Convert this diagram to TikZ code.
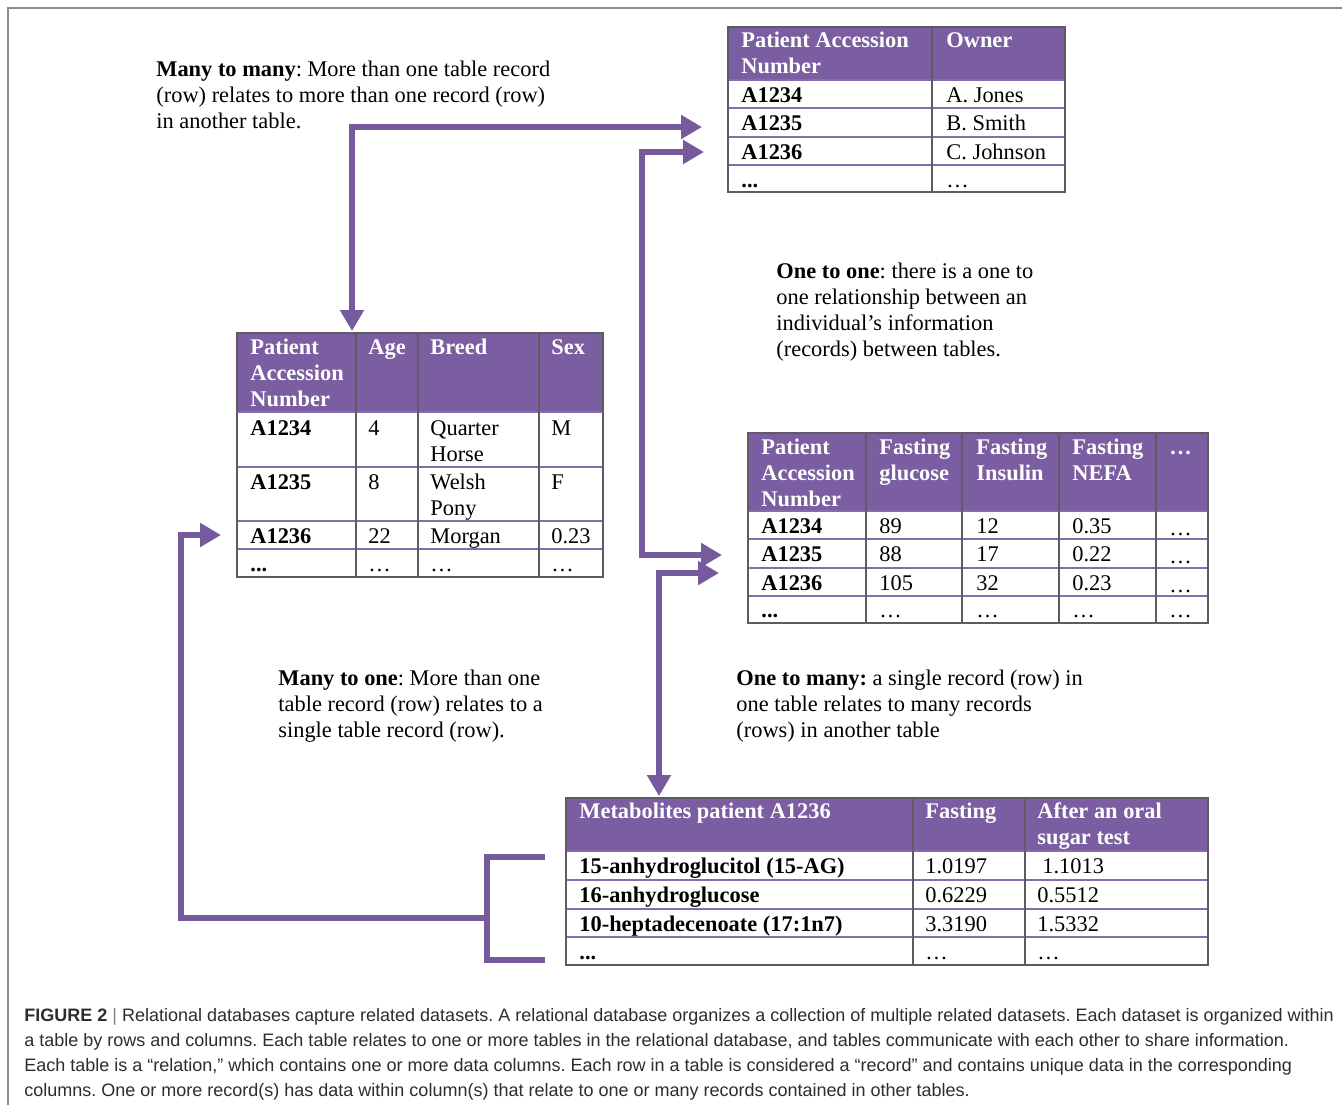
\documentclass[tikz,border=0pt]{standalone}
\usepackage{fontspec}
\setmainfont{Liberation Serif}
\setsansfont{Liberation Sans}
\usetikzlibrary{arrows.meta}
\definecolor{hdr}{RGB}{123,94,161}
\definecolor{arr}{RGB}{118,90,158}
\definecolor{rowl}{RGB}{135,108,172}
\definecolor{gridc}{RGB}{95,90,100}
\definecolor{capc}{RGB}{45,45,45}
\definecolor{framec}{RGB}{140,140,140}
\begin{document}
\frenchspacing
\begin{tikzpicture}[x=0.5pt,y=-0.5pt,
 hd/.style={anchor=base west,text=white,font=\fontsize{11.2}{13}\selectfont\bfseries,inner sep=0pt,align=left},
 bd/.style={anchor=base west,font=\fontsize{11.2}{13}\selectfont,inner sep=0pt,align=left},
 bdb/.style={bd,font=\fontsize{11.2}{13}\selectfont\bfseries},
 note/.style={anchor=base west,font=\fontsize{11.2}{13}\selectfont\frenchspacing,inner sep=0pt,align=left},
 capt/.style={anchor=base west,font=\sffamily\fontsize{9}{12.5}\selectfont\frenchspacing,text=capc,inner sep=0pt,align=left},
 link/.style={draw=arr,line width=3.3pt},
 hfill/.style={fill=hdr},
 rline/.style={draw=rowl,line width=1pt},
 cline/.style={draw=gridc,line width=0.6pt},
 border/.style={draw=gridc,line width=0.7pt},
 tipr/.style={-{Triangle[length=10.5pt,width=11.5pt]}},
 tipb/.style={{Triangle[length=10.5pt,width=11.5pt]}-{Triangle[length=10.5pt,width=11.5pt]}},
]
\useasboundingbox (0,0) rectangle (1342,1105);
\fill[white] (0,0) rectangle (1342,1105);
% frame
\draw[framec,line width=1pt] (1342,8) -- (8,8) -- (8,1105);

% (multi-line nodes are placed at the baseline of their LAST line)
% ---------------- Table 1 (Owner)
\fill[hfill] (728,27) rectangle (1065,80);
\foreach \y in {80,108,137,165} \draw[rline] (728,\y) -- (1065,\y);
\draw[cline] (932,27) -- (932,192);
\draw[border] (728,27) rectangle (1065,192);
\node[hd] (t1h1) at (741,73) {Patient Accession\\Number};
\node[hd] (t1h2) at (946,47) {Owner};
\node[bdb] (t1a1) at (741,102) {A1234};
\node[bd]  (t1b1) at (946,102) {A. Jones};
\node[bdb] (t1a2) at (741,130) {A1235};
\node[bd]  (t1b2) at (946,130) {B. Smith};
\node[bdb] (t1a3) at (741,159) {A1236};
\node[bd]  (t1b3) at (946,159) {C. Johnson};
\node[bdb] (t1a4) at (741,187) {...};
\node[bd]  (t1b4) at (946,187) {…};

% ---------------- Table 2 (Age)
\fill[hfill] (237,333) rectangle (603,412);
\foreach \y in {412,467,521,549} \draw[rline] (237,\y) -- (603,\y);
\foreach \x in {356,418,539} \draw[cline] (\x,333) -- (\x,577);
\draw[border] (237,333) rectangle (603,577);
\node[hd] (t2h1) at (250,406) {Patient\\Accession\\Number};
\node[hd] (t2h2) at (368,354) {Age};
\node[hd] (t2h3) at (430,354) {Breed};
\node[hd] (t2h4) at (551,354) {Sex};
\node[bdb] (t2a1) at (250,435) {A1234};
\node[bd]  (t2b1) at (368,435) {4};
\node[bd]  (t2c1) at (430,461) {Quarter\\Horse};
\node[bd]  (t2d1) at (551,435) {M};
\node[bdb] (t2a2) at (250,489) {A1235};
\node[bd]  (t2b2) at (368,489) {8};
\node[bd]  (t2c2) at (430,515) {Welsh\\Pony};
\node[bd]  (t2d2) at (551,489) {F};
\node[bdb] (t2a3) at (250,543) {A1236};
\node[bd]  (t2b3) at (368,543) {22};
\node[bd]  (t2c3) at (430,543) {Morgan};
\node[bd]  (t2d3) at (551,543) {0.23};
\node[bdb] (t2a4) at (250,571) {...};
\node[bd]  (t2b4) at (368,571) {…};
\node[bd]  (t2c4) at (430,571) {…};
\node[bd]  (t2d4) at (551,571) {…};

% ---------------- Table 3 (Fasting)
\fill[hfill] (748,433) rectangle (1208,511);
\foreach \y in {511,539,568,596} \draw[rline] (748,\y) -- (1208,\y);
\foreach \x in {866,962,1059,1156} \draw[cline] (\x,433) -- (\x,623);
\draw[border] (748,433) rectangle (1208,623);
\node[hd] (t3h1) at (761,506) {Patient\\Accession\\Number};
\node[hd] (t3h2) at (879,480) {Fasting\\glucose};
\node[hd] (t3h3) at (976,480) {Fasting\\Insulin};
\node[hd] (t3h4) at (1072,480) {Fasting\\NEFA};
\node[hd] (t3h5) at (1169,454) {…};
\node[bdb] (t3a1) at (761,533) {A1234};
\node[bd]  (t3b1) at (879,533) {89};
\node[bd]  (t3c1) at (976,533) {12};
\node[bd]  (t3d1) at (1072,533) {0.35};
\node[bd]  (t3e1) at (1169,535) {…};
\node[bdb] (t3a2) at (761,561) {A1235};
\node[bd]  (t3b2) at (879,561) {88};
\node[bd]  (t3c2) at (976,561) {17};
\node[bd]  (t3d2) at (1072,561) {0.22};
\node[bd]  (t3e2) at (1169,563) {…};
\node[bdb] (t3a3) at (761,590) {A1236};
\node[bd]  (t3b3) at (879,590) {105};
\node[bd]  (t3c3) at (976,590) {32};
\node[bd]  (t3d3) at (1072,590) {0.23};
\node[bd]  (t3e3) at (1169,592) {…};
\node[bdb] (t3a4) at (761,617) {...};
\node[bd]  (t3b4) at (879,617) {…};
\node[bd]  (t3c4) at (976,617) {…};
\node[bd]  (t3d4) at (1072,617) {…};
\node[bd]  (t3e4) at (1169,617) {…};

% ---------------- Table 4 (Metabolites)
\fill[hfill] (566,798) rectangle (1208,851);
\foreach \y in {851,880,909,937} \draw[rline] (566,\y) -- (1208,\y);
\foreach \x in {913,1025} \draw[cline] (\x,798) -- (\x,965);
\draw[border] (566,798) rectangle (1208,965);
\node[hd] (t4h1) at (579,818) {Metabolites patient A1236};
\node[hd] (t4h2) at (925,818) {Fasting};
\node[hd] (t4h3) at (1037,844) {After an oral\\sugar test};
\node[bdb] (t4a1) at (579,873) {15-anhydroglucitol (15-AG)};
\node[bd]  (t4b1) at (925,873) {1.0197};
\node[bd]  (t4c1) at (1042,873) {1.1013};
\node[bdb] (t4a2) at (579,902) {16-anhydroglucose};
\node[bd]  (t4b2) at (925,902) {0.6229};
\node[bd]  (t4c2) at (1037,902) {0.5512};
\node[bdb] (t4a3) at (579,931) {10-heptadecenoate (17:1n7)};
\node[bd]  (t4b3) at (925,931) {3.3190};
\node[bd]  (t4c3) at (1037,931) {1.5332};
\node[bdb] (t4a4) at (579,959) {...};
\node[bd]  (t4b4) at (925,959) {…};
\node[bd]  (t4c4) at (1037,959) {…};

% ---------------- notes
\node[note] (mm) at (156,128) {\textbf{Many to many}: More than one table record\\(row) relates to more than one record (row)\\in another table.};
\node[note] (oo) at (776,356) {\textbf{One to one}: there is a one to\\one relationship between an\\individual’s information\\(records) between tables.};
\node[note] (mo) at (278,737) {\textbf{Many to one}: More than one\\table record (row) relates to a\\single table record (row).};
\node[note] (om) at (736,737) {\textbf{One to many:} a single record (row) in\\one table relates to many records\\(rows) in another table};

% ---------------- connector end points
\coordinate (t1in2) at (702,127);
\coordinate (t1in3) at (704,152);
\coordinate (t2top) at (352,331);
\coordinate (t2in3) at (221,535);
\coordinate (t3in2) at (722,555);
\coordinate (t3in3) at (719,573);
\coordinate (t4top) at (659,796);
\coordinate (t4r1) at (545,857);
\coordinate (t4r4) at (545,960);
\coordinate (brk) at (487,918);

% ---------------- connectors
\draw[link,tipb] (t2top) |- (t1in2);
\draw[link,tipb] (t3in2) -- ++(-80,0) |- (t1in3);
\draw[link,tipb] (t3in3) -| (t4top);
\draw[link] (t4r1) -- ++(-58,0) |- (t4r4);
\draw[link,tipr] (brk) -- ++(-306,0) |- (t2in3);

% ---------------- caption
\node[capt] (cap) at (24,1096) {\textbf{FIGURE 2} {\color{gray}|} Relational databases capture related datasets. A relational database organizes a collection of multiple related datasets. Each dataset is organized within\\
a table by rows and columns. Each table relates to one or more tables in the relational database, and tables communicate with each other to share information.\\
Each table is a “relation,” which contains one or more data columns. Each row in a table is considered a “record” and contains unique data in the corresponding\\
columns. One or more record(s) has data within column(s) that relate to one or many records contained in other tables.};
\end{tikzpicture}
\end{document}
